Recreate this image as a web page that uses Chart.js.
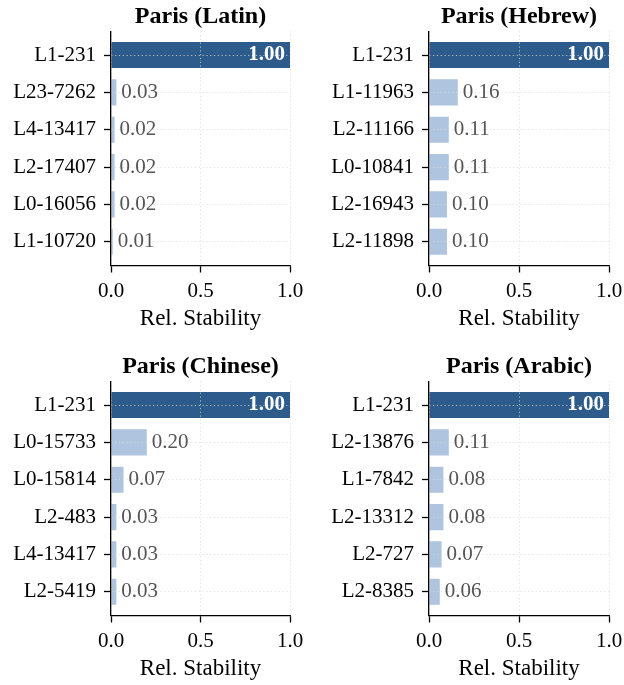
<!DOCTYPE html>
<html>
<head>
<meta charset="utf-8">
<script src="https://cdn.jsdelivr.net/npm/chart.js@4/dist/chart.umd.min.js"></script>
<style>
  html, body { margin: 0; padding: 0; background: #fff; overflow: hidden; }
  #wrap { position: relative; width: 624px; height: 685px; overflow: hidden; }
  canvas { position: absolute; }
</style>
</head>
<body>
<div id="wrap">
  <canvas id="pLatin" width="312" height="335" style="left:0;top:0"></canvas>
  <canvas id="pHebrew" width="312" height="335" style="left:318px;top:0"></canvas>
  <canvas id="pChinese" width="312" height="335" style="left:0;top:350px"></canvas>
  <canvas id="pArabic" width="312" height="335" style="left:318px;top:350px"></canvas>
</div>
<script>
// Top features by relative stability, one panel per script
const latinFeatures   = ['L1-231', 'L23-7262', 'L4-13417', 'L2-17407', 'L0-16056', 'L1-10720'];
const latinStability  = [1.00, 0.03, 0.02, 0.02, 0.02, 0.01];

const hebrewFeatures  = ['L1-231', 'L1-11963', 'L2-11166', 'L0-10841', 'L2-16943', 'L2-11898'];
const hebrewStability = [1.00, 0.16, 0.11, 0.11, 0.10, 0.10];

const chineseFeatures  = ['L1-231', 'L0-15733', 'L0-15814', 'L2-483', 'L4-13417', 'L2-5419'];
const chineseStability = [1.00, 0.20, 0.07, 0.03, 0.03, 0.03];

const arabicFeatures  = ['L1-231', 'L2-13876', 'L1-7842', 'L2-13312', 'L2-727', 'L2-8385'];
const arabicStability = [1.00, 0.11, 0.08, 0.08, 0.07, 0.06];

const xTicks = [0.0, 0.5, 1.0];
const xTitle = 'Rel. Stability';

const SERIF = '"Liberation Serif", "Times New Roman", serif';
const DARK = '#2d5b8c';
const LIGHT = '#afc4df';

// Panel title, centred over the plotting area
const panelTitle = {
  id: 'panelTitle',
  afterDraw(chart, args, opts) {
    const ctx = chart.ctx;
    const a = chart.chartArea;
    ctx.save();
    ctx.font = 'bold 24px ' + SERIF;
    ctx.fillStyle = '#000';
    ctx.textAlign = 'center';
    ctx.textBaseline = 'alphabetic';
    ctx.fillText(opts.text, (a.left + a.right) / 2, 23);
    ctx.restore();
  }
};

// Value labels: white bold inside the leading bar, grey beside the others
const valueLabels = {
  id: 'valueLabels',
  afterDraw(chart) {
    const ctx = chart.ctx;
    const meta = chart.getDatasetMeta(0);
    const pts = chart.data.datasets[0].data;
    ctx.save();
    ctx.textBaseline = 'middle';
    meta.data.forEach((bar, i) => {
      const v = pts[i].x;
      const txt = v.toFixed(2);
      if (v >= 0.5) {
        ctx.font = 'bold 21px ' + SERIF;
        ctx.fillStyle = '#ffffff';
        ctx.textAlign = 'right';
        ctx.fillText(txt, bar.x - 5, bar.y);
      } else {
        ctx.font = '21px ' + SERIF;
        ctx.fillStyle = '#555555';
        ctx.textAlign = 'left';
        ctx.fillText(txt, bar.x + 5, bar.y);
      }
    });
    ctx.restore();
  }
};

function makePanel(canvasId, title, features, values, padRight) {
  const n = features.length;
  const margin = 0.35 + 0.05 * (n - 1 + 0.7);
  const gridStyle = {
    z: 1,
    offset: false,
    color: '#d9d9d9',
    lineWidth: 0.8,
    tickColor: '#000',
    tickWidth: 1.3,
    tickLength: 7,
    tickBorderDash: []
  };
  const axisLine = { display: true, color: '#000', width: 1.3, dash: [1.2, 2.6], z: 2 };
  new Chart(document.getElementById(canvasId), {
    type: 'bar',
    data: {
      datasets: [{
        data: values.map((v, i) => ({ x: v, y: i })),
        backgroundColor: values.map((v, i) => (i === 0 ? DARK : LIGHT)),
        borderWidth: 0,
        categoryPercentage: 1.0,
        barPercentage: 0.7
      }]
    },
    options: {
      indexAxis: 'y',
      responsive: false,
      animation: false,
      devicePixelRatio: 1,
      layout: { padding: { left: 0, right: padRight, top: 31.3, bottom: 0 } },
      plugins: {
        legend: { display: false },
        tooltip: { enabled: false },
        title: { display: false },
        panelTitle: { text: title }
      },
      scales: {
        x: {
          type: 'linear',
          position: 'bottom',
          offset: false,
          min: 0,
          max: 1,
          afterBuildTicks: (s) => { s.ticks = xTicks.map(v => ({ value: v })); },
          afterFit: (s) => { s.height = 69.5; },
          ticks: {
            color: '#000',
            font: { family: SERIF, size: 21 },
            padding: 6.4,
            maxRotation: 0,
            callback: (v) => Number(v).toFixed(1)
          },
          grid: gridStyle,
          border: axisLine,
          title: {
            display: true,
            text: xTitle,
            color: '#000',
            font: { family: SERIF, size: 23, lineHeight: 1.2 },
            padding: { top: 0, bottom: 1.8 }
          }
        },
        y: {
          type: 'linear',
          position: 'left',
          offset: false,
          reverse: true,
          min: -margin,
          max: n - 1 + margin,
          afterBuildTicks: (s) => { s.ticks = features.map((_, i) => ({ value: i })); },
          afterFit: (s) => { s.width = 111; },
          ticks: {
            color: '#000',
            font: { family: SERIF, size: 21 },
            padding: 8,
            callback: (v) => features[v]
          },
          grid: gridStyle,
          border: axisLine
        }
      }
    },
    plugins: [valueLabels, panelTitle]
  });
}

makePanel('pLatin', 'Paris (Latin)', latinFeatures, latinStability, 22);
makePanel('pHebrew', 'Paris (Hebrew)', hebrewFeatures, hebrewStability, 21);
makePanel('pChinese', 'Paris (Chinese)', chineseFeatures, chineseStability, 22);
makePanel('pArabic', 'Paris (Arabic)', arabicFeatures, arabicStability, 21);
</script>
</body>
</html>
